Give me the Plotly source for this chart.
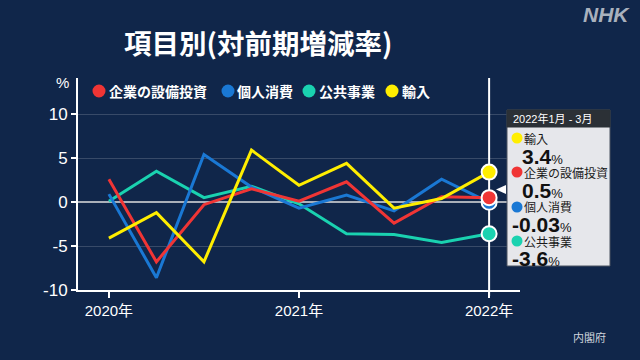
import plotly.graph_objects as go

# ---- data ----
quarters = ["2020年1-3月", "2020年4-6月", "2020年7-9月", "2020年10-12月",
            "2021年1-3月", "2021年4-6月", "2021年7-9月", "2021年10-12月",
            "2022年1-3月"]
year_ticks = ["2020年", "2021年", "2022年"]
y_ticks = [-10, -5, 0, 5, 10]
y_tick_labels = ["-10", "-5", "0", "5", "10"]
capex = [2.6, -6.8, -0.3, 1.5, 0.1, 2.3, -2.4, 0.6, 0.5]          # 企業の設備投資
consumption = [0.9, -8.6, 5.4, 1.7, -0.7, 0.8, -1.0, 2.6, -0.03]  # 個人消費
public_works = [0.1, 3.5, 0.5, 1.8, -0.2, -3.6, -3.7, -4.6, -3.6]  # 公共事業
imports = [-4.1, -1.2, -6.8, 5.9, 1.9, 4.4, -0.7, 0.4, 3.4]        # 輸入

series_names = ["企業の設備投資", "個人消費", "公共事業", "輸入"]
series_values = [capex, consumption, public_works, imports]
series_colors = ["#f03535", "#1a78d4", "#1ad2b0", "#ffee00"]
tooltip_title = "2022年1月 - 3月"
title_text = "項目別(対前期増減率)"
source_text = "内閣府"

BG = "#10264a"
FONT = "Liberation Sans, Noto Sans CJK JP, sans-serif"
JFONT = "Noto Sans CJK JP, Liberation Sans, sans-serif"

# plot area in pixels
W, H = 640, 360
L, R, T, B = 78, 520, 78, 290


def px(x):
    return (x - L) / (R - L)


def py(y):
    return (B - y) / (B - T)


fig = go.Figure()

# lines (draw order: teal, blue, red, yellow)
draw_order = [2, 1, 0, 3]
for i in draw_order:
    fig.add_trace(go.Scatter(x=quarters, y=series_values[i], mode="lines",
                             line=dict(color=series_colors[i], width=3),
                             showlegend=False, hoverinfo="skip"))
for i in draw_order:
    fig.add_trace(go.Scatter(x=[quarters[-1]], y=[series_values[i][-1]], mode="markers",
                             marker=dict(color=series_colors[i], size=15,
                                         line=dict(color="white", width=2)),
                             showlegend=False, hoverinfo="skip"))

shapes = []
annotations = []

# vertical hover line at last quarter
shapes.append(dict(type="line", xref="x", yref="paper", x0=quarters[-1], x1=quarters[-1],
                   y0=py(296), y1=1, line=dict(color="white", width=2), layer="below"))

# legend
legend_circle_x = [99, 228, 309, 392]
legend_text_x = [107, 235, 317, 400]
for i in range(4):
    shapes.append(dict(type="circle", xref="paper", yref="paper", xsizemode="pixel",
                       ysizemode="pixel", xanchor=px(legend_circle_x[i]), yanchor=py(91),
                       x0=-6.5, x1=6.5, y0=-6.5, y1=6.5,
                       fillcolor=series_colors[i], line=dict(width=0)))
    annotations.append(dict(xref="paper", yref="paper", x=px(legend_text_x[i]), y=py(91),
                            xanchor="left", yanchor="middle", showarrow=False,
                            text="<b>" + series_names[i] + "</b>",
                            font=dict(family=JFONT, size=14, color="white")))

# title
annotations.append(dict(xref="paper", yref="paper", x=px(258), y=py(42), xanchor="center",
                        yanchor="middle", showarrow=False, text="<b>" + title_text + "</b>",
                        font=dict(family=JFONT, size=27.5, color="white")))
# NHK
annotations.append(dict(xref="paper", yref="paper", x=px(632), y=py(14), xanchor="right",
                        yanchor="middle", showarrow=False, text="<b><i>NHK</i></b>",
                        font=dict(family="Liberation Sans, sans-serif", size=21, color="#a9b1bd")))
# % label
annotations.append(dict(xref="paper", yref="paper", x=px(62), y=py(82), xanchor="center",
                        yanchor="middle", showarrow=False, text="%",
                        font=dict(family=FONT, size=15, color="white")))
# source
annotations.append(dict(xref="paper", yref="paper", x=px(608), y=py(337), xanchor="right",
                        yanchor="middle", showarrow=False, text=source_text,
                        font=dict(family=JFONT, size=11, color="#cfd4dc")))

# tooltip box
bx0, bx1, by0, byh, by1 = 507, 610, 110, 127, 266
shapes.append(dict(type="rect", xref="paper", yref="paper", x0=px(bx0), x1=px(bx1),
                   y0=py(by1), y1=py(by0), fillcolor="#e6e7eb",
                   line=dict(color="#4a5260", width=1)))
shapes.append(dict(type="rect", xref="paper", yref="paper", x0=px(bx0), x1=px(bx1),
                   y0=py(byh), y1=py(by0), fillcolor="#2b3036",
                   line=dict(color="#2b3036", width=1)))
annotations.append(dict(xref="paper", yref="paper", x=px(511), y=py(118.5), xanchor="left",
                        yanchor="middle", showarrow=False, text=tooltip_title,
                        font=dict(family=FONT, size=11, color="white")))
# pointer triangle
tri = "M {a},{b} L {c},{d} L {c},{e} Z".format(a=px(496), b=py(189.5), c=px(506),
                                              d=py(185), e=py(194))
shapes.append(dict(type="path", xref="paper", yref="paper", path=tri,
                   fillcolor="white", line=dict(width=0)))

order = sorted(range(4), key=lambda k: -series_values[k][-1])
name_y = [138, 172, 207, 241]
value_y = [156, 190, 224, 258]
for row, k in enumerate(order):
    shapes.append(dict(type="circle", xref="paper", yref="paper", xsizemode="pixel",
                       ysizemode="pixel", xanchor=px(517), yanchor=py(name_y[row]),
                       x0=-5.5, x1=5.5, y0=-5.5, y1=5.5,
                       fillcolor=series_colors[k], line=dict(width=0)))
    annotations.append(dict(xref="paper", yref="paper", x=px(523), y=py(name_y[row]),
                            xanchor="left", yanchor="middle", showarrow=False,
                            text=series_names[k], borderpad=0,
                            font=dict(family=JFONT, size=12, color="#1a1a1a")))
    v = series_values[k][-1]
    vx = 521 if v >= 0 else 511
    annotations.append(dict(xref="paper", yref="paper", x=px(vx), y=py(value_y[row]),
                            xanchor="left", yanchor="middle", showarrow=False, borderpad=0,
                            text="<b>" + str(v) + "</b><span style='font-size:13px'>%</span>",
                            font=dict(family=FONT, size=21, color="#111111")))

fig.update_layout(
    width=W, height=H,
    paper_bgcolor=BG, plot_bgcolor=BG,
    margin=dict(l=L, r=W - R, t=T, b=H - B, pad=0),
    shapes=shapes, annotations=annotations,
    showlegend=False,
    xaxis=dict(type="category", range=[-0.65, 8.65],
               tickvals=[quarters[0], quarters[4], quarters[8]], ticktext=year_ticks,
               showgrid=False, showline=True, linecolor="white", linewidth=2,
               ticks="outside", ticklen=6, tickwidth=2, tickcolor="white",
               tickfont=dict(family=FONT, size=15, color="white"), zeroline=False),
    yaxis=dict(range=[-10, 14.1], tickvals=y_ticks, ticktext=y_tick_labels,
               showgrid=True, gridcolor="rgba(255,255,255,0.17)", gridwidth=1,
               zeroline=True, zerolinecolor="#aab0ba", zerolinewidth=1.5,
               showline=True, linecolor="white", linewidth=2,
               ticks="outside", ticklen=5, tickwidth=2, tickcolor="white",
               tickfont=dict(family=FONT, size=17, color="white")),
)

fig.write_html("out.html", config={"displayModeBar": False},
               post_script="document.body.style.margin='0';")
